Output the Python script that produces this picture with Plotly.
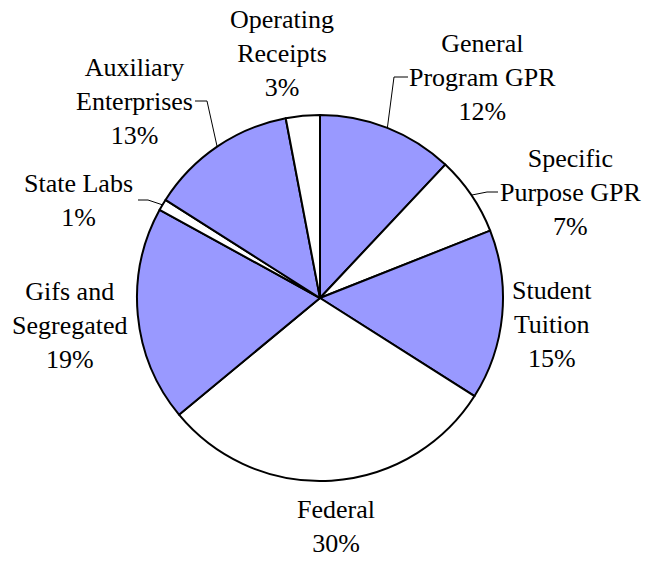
import math
import plotly.graph_objects as go

# ---- data ----
categories = ["General Program GPR", "Specific Purpose GPR", "Student Tuition", "Federal",
              "Gifs and Segregated", "State Labs", "Auxiliary Enterprises", "Operating Receipts"]
values = [12, 7, 15, 30, 19, 1, 13, 3]
label_text = ["General<br>Program GPR", "Specific<br>Purpose GPR", "Student<br>Tuition", "Federal",
              "Gifs and<br>Segregated", "State Labs", "Auxiliary<br>Enterprises", "Operating<br>Receipts"]

# ---- layout / style ----
W, H = 656, 564
CX, CY, R = 320, 298, 183
BLUE, WHITE = "#9999FF", "#FFFFFF"
colors = [BLUE if i % 2 == 0 else WHITE for i in range(len(values))]
FONT = dict(family="Times New Roman", size=26, color="black")

# label centre positions in pixels (manually placed labels)
label_px = [(482, 77), (571, 192), (552, 324), (336, 526),
            (70, 325), (78, 200), (134, 101), (282, 54)]
# leader lines: index -> (end x, knee x) in pixels
leaders = {0: (408, 394), 1: (498, 487), 5: (138, 148), 6: (195, 207)}


def px2paper(x, y):
    return x / W, 1 - y / H


fig = go.Figure()
fig.add_trace(go.Pie(
    labels=categories, values=values, sort=False, direction="clockwise", rotation=0,
    marker=dict(colors=colors, line=dict(color="black", width=2)),
    textinfo="none", hoverinfo="label+percent", showlegend=False,
    domain=dict(x=[(CX - R) / W, (CX + R) / W], y=[1 - (CY + R) / H, 1 - (CY - R) / H]),
))

total = sum(values)
cum = 0
annotations, shapes = [], []
for i, v in enumerate(values):
    mid = (cum + v / 2) / total * 2 * math.pi
    cum += v
    pct = round(v / total * 100)
    lx, ly = label_px[i]
    ax, ay = px2paper(lx, ly)
    annotations.append(dict(x=ax, y=ay, xref="paper", yref="paper", showarrow=False,
                            text=f"{label_text[i]}<br>{pct}%", font=FONT,
                            xanchor="center", yanchor="middle", align="center"))
    if i in leaders:
        ex, kx = leaders[i]
        sx = CX + R * math.sin(mid)
        sy = CY - R * math.cos(mid)
        p0 = px2paper(sx, sy)
        p1 = px2paper(kx, ly)
        p2 = px2paper(ex, ly)
        shapes.append(dict(type="path", xref="paper", yref="paper",
                           path=f"M {p0[0]} {p0[1]} L {p1[0]} {p1[1]} L {p2[0]} {p2[1]}",
                           line=dict(color="black", width=1)))

fig.update_layout(width=W, height=H, margin=dict(l=0, r=0, t=0, b=0),
                  paper_bgcolor="white", plot_bgcolor="white",
                  annotations=annotations, shapes=shapes)
fig.write_html("out.html", config={"displayModeBar": False},
               post_script="document.body.style.margin='0';document.body.style.overflow='hidden';")
